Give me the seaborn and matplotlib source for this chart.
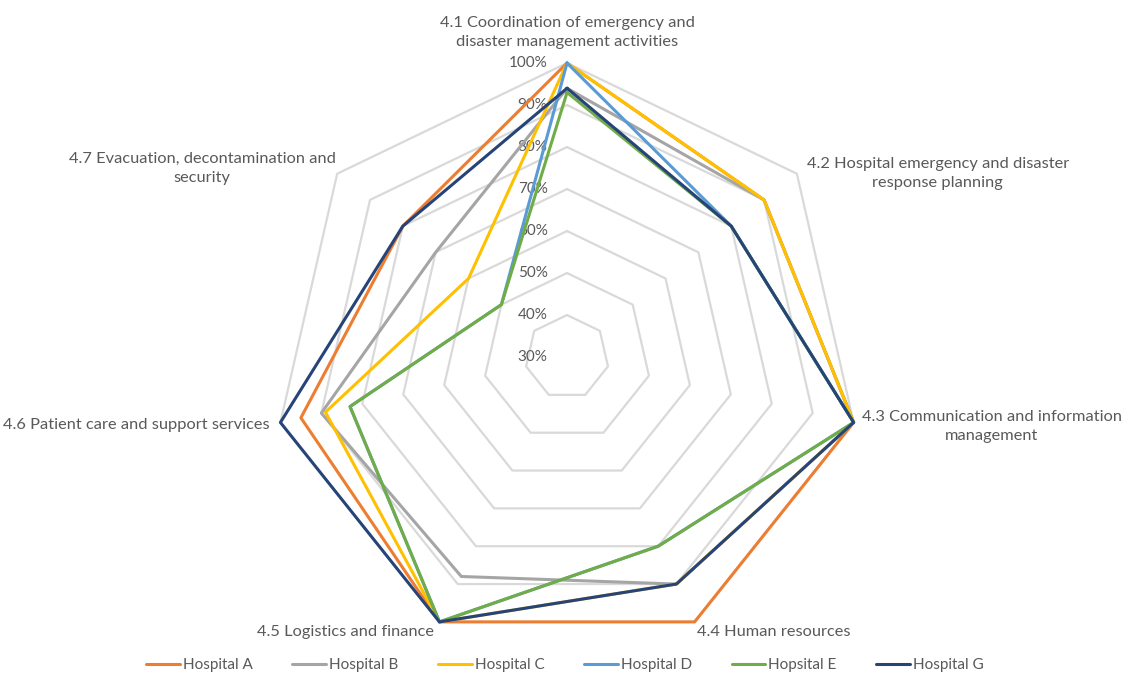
import numpy as np
import pandas as pd
import matplotlib
matplotlib.use("Agg")
import matplotlib.pyplot as plt
from matplotlib.lines import Line2D
import seaborn as sns

categories = [
    "4.1 Coordination of emergency and\ndisaster management activities",
    "4.2 Hospital emergency and disaster\nresponse planning",
    "4.3 Communication and information\nmanagement",
    "4.4 Human resources",
    "4.5 Logistics and finance",
    "4.6 Patient care and support services",
    "4.7 Evacuation, decontamination and\nsecurity",
]
hospitals = ["Hospital A", "Hospital B", "Hospital C", "Hospital D", "Hopsital E", "Hospital G"]
hosp_a = [100, 90, 100, 100, 100, 95, 80]
hosp_b = [94, 90, 100, 90, 88, 90, 70]
hosp_c = [100, 90, 100, 90, 100, 89, 60]
hosp_d = [100, 80, 100, 80, 100, 83, 50]
hosp_e = [93, 80, 100, 80, 100, 83, 50]
hosp_g = [94, 80, 100, 90, 100, 100, 80]
ring_ticks = [30, 40, 50, 60, 70, 80, 90, 100]
colors = ["#ED7D31", "#A5A5A5", "#FFC000", "#5B9BD5", "#70AD47", "#264478"]

sns.set_theme(style="white")
plt.rcParams["font.family"] = ["Lato", "DejaVu Sans"]
text_color = "#595959"

n = len(categories)
theta = np.linspace(0, 2 * np.pi, n, endpoint=False)
theta_closed = np.append(theta, 2 * np.pi)

rows = []
for name, vals in zip(hospitals, [hosp_a, hosp_b, hosp_c, hosp_d, hosp_e, hosp_g]):
    for t, v in zip(theta_closed, vals + vals[:1]):
        rows.append({"hospital": name, "theta": t, "value": v})
df = pd.DataFrame(rows)

fig = plt.figure(figsize=(11.3, 6.86), dpi=100)
ax = fig.add_axes([0.2416, 0.0510, 0.5204, 0.8571], projection="polar")
ax.set_theta_zero_location("N")
ax.set_theta_direction(-1)
ax.set_ylim(30, 100)
ax.grid(False)
ax.spines["polar"].set_visible(False)
ax.set_xticks([])
ax.set_yticks([])

# heptagon grid rings
for r in ring_ticks[1:]:
    ax.plot(theta_closed, [r] * len(theta_closed), color="#D9D9D9", lw=1.6,
            zorder=1, clip_on=False)

# radial tick labels along the top axis
for r in ring_ticks:
    ax.annotate(f"{r}%", xy=(0, r), xytext=(-14, 0), textcoords="offset points",
                ha="right", va="center", fontsize=11, color=text_color, zorder=2)

sns.lineplot(data=df, x="theta", y="value", hue="hospital", hue_order=hospitals,
             palette=colors, sort=False, estimator=None, lw=2.2, ax=ax, legend=False)
for line in ax.lines:
    line.set_clip_on(False)
for line in ax.lines[len(ring_ticks) - 1:]:
    line.set_zorder(3)
ax.set_xlabel("")
ax.set_ylabel("")

# category labels
label_offsets = [(0, 10, "center", "bottom"),
                 (7, 0, "left", "center"),
                 (6, -3, "left", "center"),
                 (2, -7, "left", "center"),
                 (-4, -7, "right", "center"),
                 (-8, -2, "right", "center"),
                 (-1, 4, "right", "center")]
for t, label, (dx, dy, ha, va) in zip(theta, categories, label_offsets):
    ax.annotate(label, xy=(t, 100), xytext=(dx, dy), textcoords="offset points",
                ha=ha, va=va, multialignment="center", fontsize=11.8,
                linespacing=1.5, color=text_color, annotation_clip=False)

handles = [Line2D([0], [0], color=c, lw=2.2) for c in colors]
fig.legend(handles, hospitals, loc="lower center", bbox_to_anchor=(0.5, 0.0),
           ncol=6, frameon=False, fontsize=11, handlelength=2.2,
           columnspacing=2.6, handletextpad=0.2, labelcolor=text_color)

fig.savefig("out.png", dpi=100)
